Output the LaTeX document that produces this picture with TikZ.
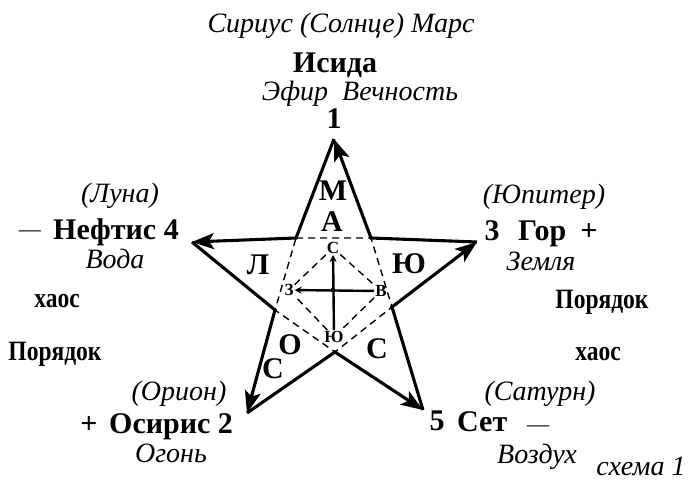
\documentclass[tikz,border=0pt]{standalone}
\usepackage{fontspec}
\usepackage{graphicx}
\setmainfont{Liberation Serif}
\usetikzlibrary{arrows.meta}
\newcommand\mybf{\fontsize{30}{34}\selectfont\bfseries}
\newcommand\myit{\fontsize{28}{32}\selectfont\itshape}
\newcommand\mysm{\fontsize{17}{19}\selectfont\bfseries}
\newcommand\mydash{\fontsize{22}{25}\selectfont}
\newcommand\mycond[1]{\scalebox{0.84}[1]{\fontsize{28}{32}\selectfont\bfseries #1}}
\begin{document}
\begin{tikzpicture}[x=1pt,y=-1pt,
  bf/.style={font=\mybf, inner sep=0pt},
  it/.style={font=\myit, inner sep=0pt},
  sm/.style={font=\mysm, inner sep=1pt},
  dsh/.style={font=\mydash, inner sep=0pt},
  edge/.style={line width=3.1pt, line join=miter, -{Stealth[length=22pt,width=16pt,inset=5pt]}},
  dashline/.style={line width=1.4pt, dash pattern=on 7pt off 5pt},
  crossline/.style={line width=2.4pt},
]
\fill[white] (0,0) rectangle (688,485);
\useasboundingbox (0,0) rectangle (688,485);

% star points
\coordinate (p1) at (334,139);
\coordinate (p3) at (477,242);
\coordinate (p5) at (423,410);
\coordinate (p2) at (247,413);
\coordinate (p4) at (192,242);
\coordinate (iul) at (296,238);
\coordinate (iur) at (371,238);
\coordinate (ir) at (392,307);
\coordinate (ib) at (335,352);
\coordinate (il) at (275,310);

% dashed inner pentagon
\draw[dashline] (iul) -- (iur) -- (ir) -- (ib) -- (il) -- cycle;

% star outline with arrows
\draw[edge] (p3) -- (iur) -- (p1);
\draw[edge] (p1) -- (iul) -- (p4);
\draw[edge] (p4) -- (il) -- (p2);
\draw[edge] (p2) -- (ib) -- (p5);
\draw[edge] (p5) -- (ir) -- (p3);

% center cross and diamond
\node[sm] (cs) at (333,248) {С};
\node[sm] (cv) at (381,291) {В};
\node[sm] (cy) at (334,337) {Ю};
\node[sm] (cz) at (289,290) {З};
\node[circle, fill, inner sep=1.7pt] (ctr) at (333,290) {};
\draw[dashline] (cs) -- (cv) (cv) -- (cy) (cy) -- (cz) (cz) -- (cs);
\draw[crossline, -{Stealth[length=7pt,width=7pt]}] (cy) -- (cs);
\draw[crossline, -{Stealth[length=7pt,width=7pt]}] (cv) -- (cz);

% inner letters
\node[bf] (m) at (333,191) {М};
\node[bf] (a) at (332,222) {А};
\node[bf] (l) at (258,265) {Л};
\node[bf] (ju) at (409,264) {Ю};
\node[bf] (o) at (290,345) {О};
\node[bf] (s1) at (273,369) {С};
\node[bf] (s2) at (377,349) {С};

% top
\node[it, anchor=base] (sirius) at (341,32) {Сириус (Солнце) Марс};
\node[bf, anchor=base] (isida) at (335,72) {Исида};
\node[it, anchor=base] (efir) at (360,100) {Эфир\ \ Вечность};
\node[bf, anchor=base] (n1) at (334,128) {1};

% left
\node[it, anchor=base] (luna) at (120,202) {(Луна)};
\node[dsh, anchor=base] (dash4) at (30,236) {—};
\node[bf, anchor=base west] (neftis) at (53,239) {Нефтис 4};
\node[it, anchor=base] (voda) at (115,268) {Вода};
\node[inner sep=0pt, anchor=base] (xaos1) at (57,307) {\mycond{хаос}};
\node[inner sep=0pt, anchor=base] (por1) at (55,360) {\mycond{Порядок}};

% right
\node[it, anchor=base] (jup) at (544,203) {(Юпитер)};
\node[bf, anchor=base] (n3) at (492,240) {3};
\node[bf, anchor=base west] (gor) at (518,240) {Гор};
\node[bf, anchor=base] (plus3) at (589,240) {+};
\node[it, anchor=base] (zem) at (541,270) {Земля};
\node[inner sep=0pt, anchor=base] (por2) at (602,308) {\mycond{Порядок}};
\node[inner sep=0pt, anchor=base] (xaos2) at (598,360) {\mycond{хаос}};

% bottom left
\node[it, anchor=base] (orion) at (179,400) {(Орион)};
\node[bf, anchor=base] (plus2) at (89,433) {+};
\node[bf, anchor=base west] (osiris) at (109,433) {Осирис 2};
\node[it, anchor=base] (ogon) at (171,462) {Огонь};

% bottom right
\node[it, anchor=base] (sat) at (540,400) {(Сатурн)};
\node[bf, anchor=base] (n5) at (437,430) {5};
\node[bf, anchor=base west] (set) at (457,431) {Сет};
\node[dsh, anchor=base] (dash5) at (538,431) {—};
\node[it, anchor=base] (vozd) at (537,463) {Воздух};
\node[it, anchor=base] (shema) at (641,475) {схема 1};
\end{tikzpicture}
\end{document}
